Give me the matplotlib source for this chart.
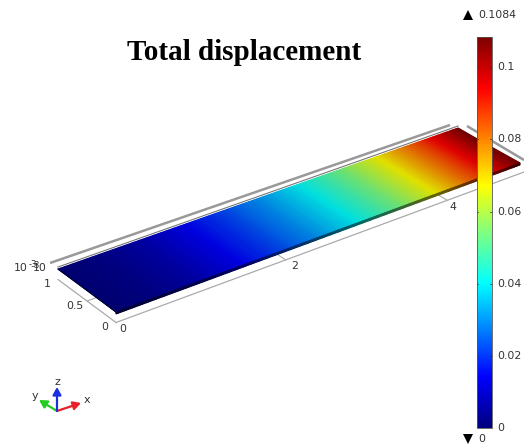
import numpy as np
import matplotlib
matplotlib.use("Agg")
import matplotlib.pyplot as plt
from matplotlib.colors import Normalize, LinearSegmentedColormap

# ── Data ──────────────────────────────────────────────────────
x_stations = [0, 0.5, 1, 1.5, 2, 2.5, 3, 3.5, 4, 4.5, 5]
disp_values = [0, 0.002, 0.006, 0.013, 0.021, 0.030, 0.040, 0.053, 0.068, 0.087, 0.1084]
y_stations = [0, 1]
x_ticks = [0, 2, 4]
y_ticks = [0, 0.5, 1]
cbar_ticks = [0, 0.02, 0.04, 0.06, 0.08, 0.1]
cbar_labels = ["0", "0.02", "0.04", "0.06", "0.08", "0.1"]
disp_max = 0.1084
disp_min = 0

TEXT = "#333333"
W, H = 524, 444

# rainbow table as in the colour bar
STOPS = [(0, (0, 0, 0.5)), (0.13, (0, 0, 1)), (0.37, (0, 1, 1)), (0.5, (0.5, 1, 0.5)),
         (0.62, (1, 1, 0)), (0.87, (1, 0, 0)), (1, (0.5, 0, 0))]


def shaded(name, k):
    return LinearSegmentedColormap.from_list(name, [(p, tuple(k * c for c in rgb)) for p, rgb in STOPS])


bar_cmap = shaded("bar", 1.0)
plate_cmap = shaded("plate", 0.88)
edge_cmap = shaded("edge", 0.4)


# plate corners on screen, in pixels (view of the x-y plane)
def proj(x, y, lift=0):
    u, v = np.asarray(x) / 5.0, np.asarray(y) / 1.0
    px = (1-u)*(1-v)*116 + u*(1-v)*520 + (1-u)*v*58 + u*v*458
    py = (1-u)*(1-v)*312 + u*(1-v)*163 + (1-u)*v*269 + u*v*128
    return px, py + lift


fig = plt.figure(figsize=(W / 100, H / 100), dpi=100)
ax = fig.add_axes([0, 0, 1, 1])
ax.set_xlim(0, W)
ax.set_ylim(H, 0)
ax.axis("off")

# ── Floor box and ticks ───────────────────────────────────────
LIFT = 10.5
gx, gy = proj([0, 5.1], [0, 0], LIFT)
ax.plot(gx, gy, color="#aaaaaa", lw=0.9, zorder=1)
gx, gy = proj([0, 0], [0, 1], LIFT)
ax.plot(gx, gy, color="#aaaaaa", lw=0.9, zorder=1)
for t in x_ticks[1:]:
    gx, gy = proj([t + 0.1, t + 0.1], [0, 0.16], LIFT)
    ax.plot(gx, gy, color="#aaaaaa", lw=0.8, zorder=1)
for t in y_ticks[1:-1]:
    gx, gy = proj([0, 0.15], [t, t], LIFT)
    ax.plot(gx, gy, color="#aaaaaa", lw=0.8, zorder=1)

# gray frame bars behind the plate
gx, gy = proj([0, 5], [1, 1], -5)
ax.plot([gx[0] - 8, gx[1] - 8], [gy[0] - 1, gy[1] + 2], color="#999999", lw=1.8,
        solid_capstyle="butt", zorder=1)
ax.plot([467, 524], [126, 160], color="#999999", lw=1.8, solid_capstyle="butt", zorder=4)
gx, gy = proj([0, 5], [1, 1], -2)
ax.plot(gx, gy, color="#777777", lw=0.8, zorder=1)

# ── Plate surface ─────────────────────────────────────────────
xf = np.linspace(x_stations[0], x_stations[-1], 201)
yf = np.array(y_stations, dtype=float)
XX, YY = np.meshgrid(xf, yf)
PX, PY = proj(XX, YY)
ZZ = np.interp(XX, x_stations, disp_values)
norm = Normalize(disp_min, disp_max)
ax.pcolormesh(PX, PY, ZZ, cmap=plate_cmap, norm=norm, shading="gouraud", zorder=3)

# plate thickness along the near edge
ex, ey = proj(np.vstack([xf, xf]), np.zeros((2, xf.size)))
ey = ey + np.array([[0.0], [2.0]])
ax.pcolormesh(ex, ey, np.vstack([np.interp(xf, x_stations, disp_values)] * 2),
              cmap=edge_cmap, norm=norm, shading="gouraud", zorder=3)
gx, gy = proj([0, 0], [0, 1])
ax.plot(gx, gy, color="#000033", lw=0.8, zorder=4)

# ── Axis labels ───────────────────────────────────────────────
for t, lx, ly in zip(x_ticks, [123, 295, 453], [329, 266, 207]):
    ax.text(lx, ly, str(t), fontsize=7.8, color=TEXT, ha="center", va="center")
for t, lx, ly in zip(y_ticks, [105, 75, 47], [327, 306, 284]):
    ax.text(lx, ly, f"{t:g}", fontsize=7.8, color=TEXT, ha="center", va="center")
ax.text(21, 268, "10", fontsize=7.8, color=TEXT, ha="center", va="center")
ax.text(33, 264, "-3", fontsize=6, color=TEXT, ha="center", va="center")
ax.text(40, 268, "10", fontsize=7.8, color=TEXT, ha="center", va="center")
ax.text(36, 265, "3", fontsize=6, color=TEXT, ha="center", va="center")

ax.text(244, 53, "Total displacement", family="Liberation Serif", weight="bold",
        fontsize=21, color="black", ha="center", va="center")

# ── Orientation triad ─────────────────────────────────────────
ox, oy = 57, 411
for dx, dy, c, lab, lx, ly in [(24, -8, "#e8202a", "x", 87, 400),
                               (-18, -11, "#22cc22", "y", 35, 396),
                               (0, -24, "#1a2fe0", "z", 57, 382)]:
    ax.annotate("", xy=(ox + dx, oy + dy), xytext=(ox, oy), zorder=5,
                arrowprops=dict(arrowstyle="-|>,head_width=0.25,head_length=0.45",
                                color=c, lw=1.6, shrinkA=0, shrinkB=0))
    ax.text(lx, ly, lab, fontsize=8, color=TEXT, ha="center", va="center")

# ── Colour bar ────────────────────────────────────────────────
cax = fig.add_axes([476.5 / W, 1 - 428 / H, 15 / W, 391 / H], zorder=6)
sm = plt.cm.ScalarMappable(norm=norm, cmap=bar_cmap)
cb = fig.colorbar(sm, cax=cax)
cb.set_ticks(cbar_ticks)
cb.set_ticklabels(cbar_labels)
cb.ax.tick_params(right=False, labelright=False)
cb.outline.set_edgecolor("#555555")
cb.outline.set_linewidth(0.6)
for t, lab in zip(cbar_ticks, cbar_labels):
    cax.plot([0, 0.1], [t, t], color="#222222", lw=0.5, transform=cax.get_yaxis_transform())
    cax.plot([0.9, 1], [t, t], color="#222222", lw=0.5, transform=cax.get_yaxis_transform())
    cax.annotate(lab, xy=(1, t), xycoords=cax.get_yaxis_transform(), xytext=(4.5, 0),
                 textcoords="offset points", fontsize=7.8, color=TEXT, va="center",
                 annotation_clip=False)

ax.plot([468], [15], marker="^", color="black", ms=7, mew=0)
ax.text(478, 15, f"{disp_max:.4f}", fontsize=7.8, color=TEXT, va="center")
ax.plot([468], [439], marker="v", color="black", ms=7, mew=0)
ax.text(478, 439, f"{disp_min}", fontsize=7.8, color=TEXT, va="center")

fig.savefig("out.png", dpi=100)
